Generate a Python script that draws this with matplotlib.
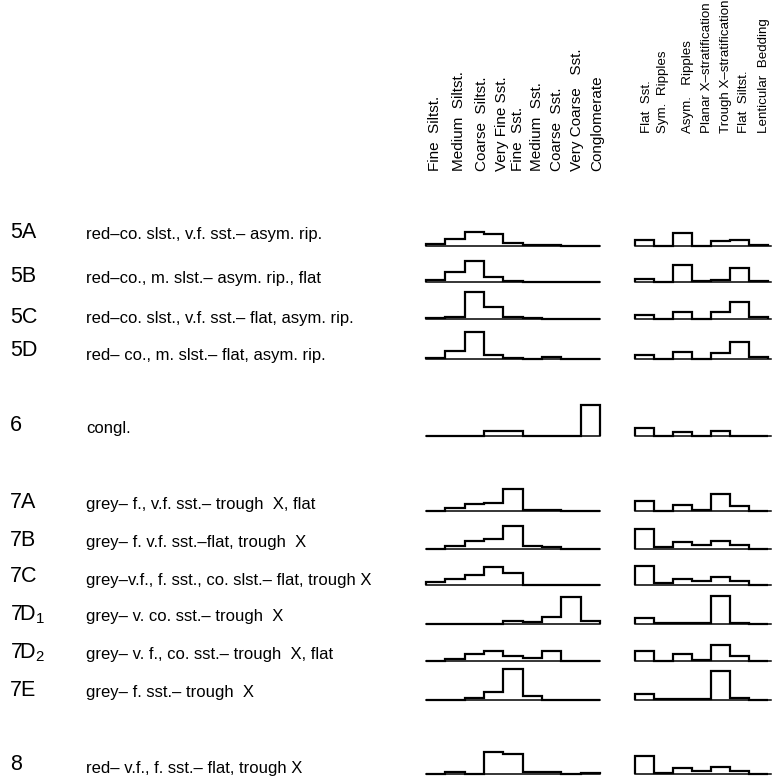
import matplotlib.pyplot as plt
import numpy as np

plt.rcParams['font.family'] = ['Liberation Sans', 'DejaVu Sans']
plt.rcParams['mathtext.default'] = 'regular'

W, H = 773, 781

grain_sizes = ["Fine  Siltst.", "Medium  Siltst.", "Coarse  Siltst.", "Very Fine Sst.",
               "Fine  Sst.", "Medium  Sst.", "Coarse  Sst.", "Very Coarse   Sst.",
               "Conglomerate"]
structures = ["Flat  Sst.", "Sym.  Ripples", "Asym.   Ripples", "Planar X\u2013stratification",
              "Trough X\u2013stratification", "Flat  Siltst.", "Lenticular  Bedding"]

facies_codes = ["5A", "5B", "5C", "5D", "6", "7A", "7B", "7C",
                "7D$_1$", "7D$_2$", "7E", "8"]
facies_names = [
    "red\u2013co. slst., v.f. sst.\u2013 asym. rip.",
    "red\u2013co., m. slst.\u2013 asym. rip., flat",
    "red\u2013co. slst., v.f. sst.\u2013 flat, asym. rip.",
    "red\u2013 co., m. slst.\u2013 flat, asym. rip.",
    "congl.",
    "grey\u2013 f., v.f. sst.\u2013 trough  X, flat",
    "grey\u2013 f. v.f. sst.\u2013flat, trough  X",
    "grey\u2013v.f., f. sst., co. slst.\u2013 flat, trough X",
    "grey\u2013 v. co. sst.\u2013 trough  X",
    "grey\u2013 v. f., co. sst.\u2013 trough  X, flat",
    "grey\u2013 f. sst.\u2013 trough  X",
    "red\u2013 v.f., f. sst.\u2013 flat, trough X",
]

# relative frequencies (same scale for all rows)
grain_freq = [
    [1.7, 6.7, 14.0, 11.7, 3.3, 1.0, 0.7, 0.0, 0.0],
    [2.3, 10.0, 21.0, 5.0, 0.7, 0.0, 0.0, 0.0, 0.0],
    [1.0, 2.3, 26.7, 11.7, 1.7, 0.7, 0.0, 0.0, 0.0],
    [0.7, 7.7, 26.7, 3.7, 1.0, 0.3, 1.5, 0.0, 0.0],
    [0.0, 0.0, 0.0, 5.3, 5.3, 0.0, 0.0, 0.0, 30.7],
    [0.0, 3.3, 6.7, 8.3, 21.7, 1.3, 0.7, 0.0, 0.0],
    [0.0, 3.0, 8.0, 9.7, 23.3, 3.3, 1.7, 0.0, 0.0],
    [2.7, 6.0, 10.0, 17.7, 11.7, 0.0, 0.0, 0.0, 0.0],
    [0.0, 0.0, 0.0, 0.0, 2.7, 2.3, 7.3, 26.7, 2.7],
    [0.0, 2.3, 6.7, 10.0, 5.0, 2.7, 10.0, 0.0, 0.0],
    [0.0, 0.0, 2.3, 7.7, 30.7, 4.0, 0.0, 0.0, 0.0],
    [0.0, 1.7, 0.0, 21.7, 20.0, 2.3, 2.3, 0.0, 0.7],
]
struct_freq = [
    [5.7, 0.0, 13.3, 0.0, 5.0, 6.0, 1.0],
    [2.7, 0.0, 16.7, 1.0, 1.7, 14.3, 1.0],
    [4.3, 0.0, 7.3, 0.0, 6.7, 17.3, 1.7],
    [4.0, 0.0, 6.7, 0.0, 6.3, 17.3, 2.3],
    [8.3, 0.0, 4.3, 0.0, 5.3, 0.3, 0.3],
    [10.0, 0.0, 6.0, 1.0, 16.7, 5.0, 0.0],
    [19.7, 1.7, 7.3, 4.0, 8.3, 4.0, 0.0],
    [18.7, 1.7, 6.0, 3.7, 7.7, 3.7, 0.0],
    [6.0, 0.7, 0.7, 0.7, 28.3, 1.0, 0.0],
    [10.0, 0.0, 6.7, 1.0, 16.0, 5.0, 0.0],
    [6.0, 1.0, 1.0, 0.7, 29.0, 1.7, 0.0],
    [18.3, 1.0, 5.7, 3.3, 7.3, 3.3, 0.0],
]

# layout (pixels)
row_base = [246, 282, 319, 359, 436, 511, 549, 585, 624, 661, 700, 774]
code_y = [232, 277, 317, 351, 425, 502, 540, 577, 615, 653, 691, 764]
name_y = [234, 279, 319, 355, 428, 505, 543, 580, 617, 655, 693, 768]
grain_x0, grain_x1 = 426, 600
struct_x0, struct_x1 = 635, 768
ax_h = 36
grain_head_x = [435, 459, 482, 502, 518, 537, 557, 577, 597]
struct_head_x = [647, 663, 688, 707, 726, 744, 764]

fig = plt.figure(figsize=(W / 100, H / 100), dpi=100)


def add_hist(x0, x1, base, values, extra=0.0):
    ax = fig.add_axes([x0 / W, 1 - base / H, (x1 - x0) / W, ax_h / H])
    n = len(values)
    edges = np.arange(n + 1)
    ax.stairs(values, edges, baseline=0, fill=False, color='black',
              linewidth=1.6, clip_on=False)
    ax.plot([0, n + extra], [0, 0], color='black', linewidth=1.1,
            clip_on=False)
    ax.set_xlim(0, n)
    ax.set_ylim(0, ax_h)
    ax.axis('off')
    return ax


for i in range(len(facies_codes)):
    add_hist(grain_x0, grain_x1, row_base[i], grain_freq[i])
    add_hist(struct_x0, struct_x1, row_base[i], struct_freq[i], extra=0.15)
    fig.text(10 / W, 1 - code_y[i] / H, facies_codes[i], fontsize=15.5,
             va='center', ha='left')
    fig.text(86 / W, 1 - name_y[i] / H, facies_names[i], fontsize=12,
             va='center', ha='left')

for lab, x in zip(grain_sizes, grain_head_x):
    fig.text(x / W, 1 - 171 / H, lab, rotation=90, fontsize=11,
             va='bottom', ha='center')
for lab, x in zip(structures, struct_head_x):
    fig.text(x / W, 1 - 133 / H, lab, rotation=90, fontsize=9.6,
             va='bottom', ha='center')

fig.savefig('out.png', dpi=100)
